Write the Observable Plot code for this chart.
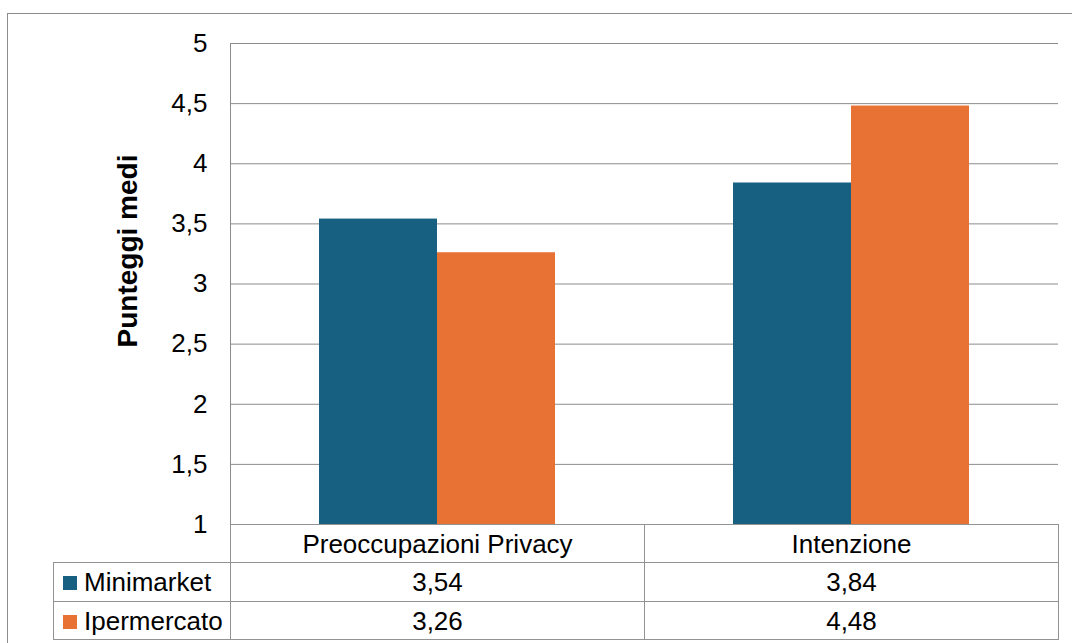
<!DOCTYPE html>
<html>
<head>
<meta charset="utf-8">
<script src="https://cdn.jsdelivr.net/npm/d3@7"></script>
<script src="https://cdn.jsdelivr.net/npm/@observablehq/plot@0.6"></script>
<style>
  html, body { margin: 0; padding: 0; background: #ffffff; }
  body { width: 1072px; height: 643px; position: relative; overflow: hidden;
         font-family: "Liberation Sans", Arial, sans-serif; }
  #chart { position: absolute; left: 0; top: 0; }
  #frame { position: absolute; left: 7px; top: 13px; width: 1200px; height: 900px;
           border: 1px solid #8c8c8c; pointer-events: none; }
  #datatable { position: absolute; left: 53px; top: 524px; border-collapse: collapse;
               table-layout: fixed; font-size: 26px; color: #000; }
  #datatable td { border: 1px solid #939393; padding: 0; text-align: center;
                  vertical-align: middle; white-space: nowrap; line-height: 1; }
  #datatable td.blank { border-top: none; border-left: none; border-bottom: none; }
  #datatable td.key { text-align: left; padding-left: 9px; }
  .swatch { display: inline-block; width: 14px; height: 14px; margin-right: 7px;
            vertical-align: 1px; }
</style>
</head>
<body>
<div id="chart"></div>
<table id="datatable"></table>
<div id="frame"></div>
<script>
// Average scores by store type
const categories = ["Preoccupazioni Privacy", "Intenzione"];
const series = ["Minimarket", "Ipermercato"];
const minimarket = [3.54, 3.84];
const ipermercato = [3.26, 4.48];
const colors = ["#186082", "#e87234"];
const yTicks = [1, 1.5, 2, 2.5, 3, 3.5, 4, 4.5, 5];
const yLabel = "Punteggi medi";

const values = [minimarket, ipermercato];
const data = [];
categories.forEach((c, i) => {
  series.forEach((s, j) => data.push({category: c, series: s, value: values[j][i]}));
});

const fmt = (d) => String(d).replace(".", ",");

// The SVG spans the whole page; the data table sits over its lower band
const chart = Plot.plot({
  width: 1072,
  height: 643,
  marginLeft: 230,
  marginRight: 14,
  marginTop: 43,
  marginBottom: 119,
  style: {fontFamily: "'Liberation Sans', Arial, sans-serif", fontSize: "26px", background: "transparent", color: "#000"},
  fx: {domain: categories, padding: 0, axis: null},
  x: {domain: series, paddingInner: 0, paddingOuter: 0.75, axis: null},
  y: {domain: [1, 5], axis: null},
  color: {domain: series, range: colors},
  marks: [
    Plot.gridY(yTicks, {stroke: "#8c8c8c", strokeOpacity: 1}),
    Plot.barY(data, {fx: "category", x: "series", y1: 1, y2: "value", fill: "series"}),
    Plot.axisY(yTicks, {tickSize: 0, tickPadding: 23, tickFormat: fmt, label: null,
                        fontSize: 26, fill: "#000"}),
    Plot.frame({anchor: "left", stroke: "#8c8c8c", strokeOpacity: 1, facetAnchor: "left"}),
    Plot.text([yLabel], {text: (d) => d, frameAnchor: "left", textAnchor: "middle", rotate: -90,
                         dx: -102, dy: -33, fontWeight: "bold", fontSize: 28, fill: "#000",
                         facetAnchor: "left"})
  ]
});
document.getElementById("chart").append(chart);

// Data table below the plot, with the legend keys in its first column
const table = document.getElementById("datatable");
const colWidths = [177, 414, 414];
const colgroup = document.createElement("colgroup");
colWidths.forEach((w) => {
  const col = document.createElement("col");
  col.style.width = w + "px";
  colgroup.append(col);
});
table.append(colgroup);

const head = document.createElement("tr");
head.style.height = "38px";
const blank = document.createElement("td");
blank.className = "blank";
head.append(blank);
categories.forEach((c) => {
  const td = document.createElement("td");
  td.textContent = c;
  head.append(td);
});
table.append(head);

series.forEach((s, j) => {
  const tr = document.createElement("tr");
  tr.style.height = j === 0 ? "39px" : "38px";
  const key = document.createElement("td");
  key.className = "key";
  const sw = document.createElement("span");
  sw.className = "swatch";
  sw.style.background = colors[j];
  key.append(sw, document.createTextNode(s));
  tr.append(key);
  values[j].forEach((v) => {
    const td = document.createElement("td");
    td.textContent = fmt(v);
    tr.append(td);
  });
  table.append(tr);
});
</script>
</body>
</html>
